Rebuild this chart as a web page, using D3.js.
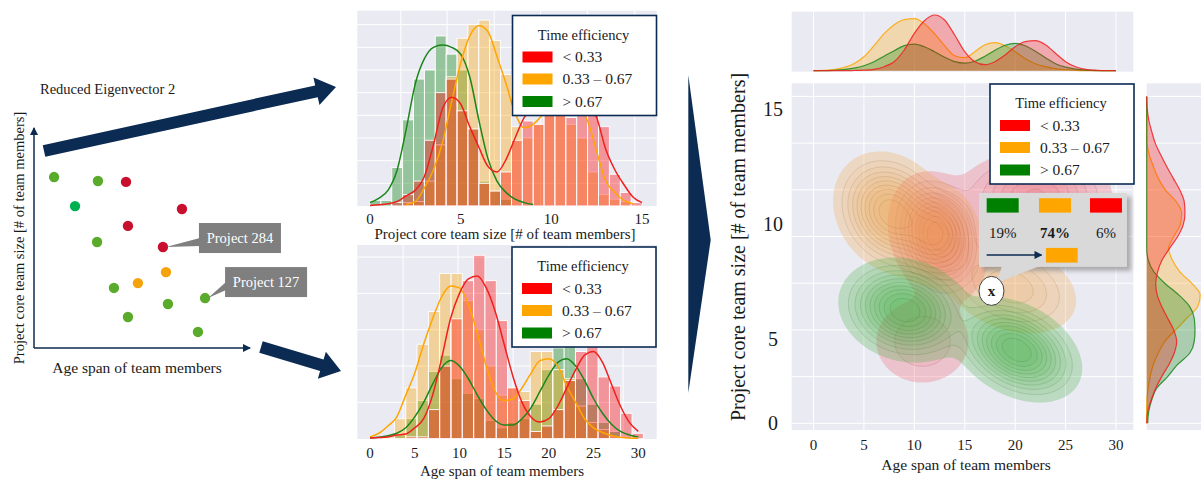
<!DOCTYPE html>
<html>
<head>
<meta charset="utf-8">
<script src="https://cdn.jsdelivr.net/npm/d3@7"></script>
<style>
  body { margin: 0; background: #fff; }
  text { font-family: "Liberation Serif", "Times New Roman", serif; fill: #1a1a1a; }
</style>
</head>
<body>
<svg id="fig" width="1201" height="479"></svg>
<script>
// ---------- data ----------
// left: projects on the reduced eigenvector plane (schematic units)
const eigenX = [0.93, 2.96, 4.26, 1.90, 6.85, 4.35, 2.92, 5.97, 6.11, 4.81, 3.70, 7.92, 6.20, 4.35, 7.59];
const eigenY = [7.77, 7.59, 7.55, 6.45, 6.32, 5.55, 4.82, 4.59, 3.45, 2.95, 2.73, 2.27, 2.00, 1.41, 0.73];
const eigenCls = ['g', 'g', 'r', 't', 'r', 'r', 'g', 'r', 'o', 'o', 'g', 'g', 'g', 'g', 'g'];
const calloutIdx = [7, 11];
const calloutText = ['Project 284', 'Project 127'];

const groups = ['< 0.33', '0.33 \u2013 0.67', '> 0.67'];

// top histogram: project core team size
const sizeBins = [0, 0.6, 1.2, 1.8, 2.4, 3.0, 3.6, 4.2, 4.8, 5.4, 6.0, 6.6, 7.2, 7.8, 8.4, 9.0, 9.6, 10.2, 10.8, 11.4, 12.0, 12.6, 13.2, 13.8, 14.4, 15.0];
const sizeRed    = [0, 0, 0.15, 0.5, 1.1, 2.9, 5.0, 5.6, 4.2, 3.4, 1.0, 0.66, 1.5, 2.9, 3.75, 3.6, 4.0, 4.2, 3.9, 4.1, 4.0, 3.5, 1.4, 0.6, 0.15];
const sizeOrange = [0, 0, 0, 0.15, 0.2, 1.1, 2.7, 5.7, 7.4, 8.0, 8.2, 7.3, 5.8, 3.5, 3.0, 3.6, 4.0, 4.0, 3.6, 3.0, 1.5, 0.5, 0.3, 0.2, 0];
const sizeGreen  = [0.25, 0.25, 1.7, 3.8, 5.6, 6.0, 7.5, 6.7, 6.0, 3.4, 1.1, 0.66, 0.3, 0, 0, 0, 0, 0, 0, 0, 0, 0, 0, 0, 0];
const sizeKdeX = d3.range(31).map(i => i / 2);
const sizeKdeRed    = [0.02, 0.05, 0.1, 0.2, 0.45, 0.7, 1.3, 2.7, 4.3, 4.8, 4.5, 3.5, 2.6, 1.75, 1.5, 2.05, 3.0, 3.9, 4.4, 4.7, 4.9, 5.0, 5.0, 4.85, 4.6, 3.9, 2.5, 1.6, 0.95, 0.4, 0.15];
const sizeKdeOrange = [null, null, null, null, 0.07, 0.2, 0.8, 1.6, 2.8, 4.6, 6.3, 7.5, 7.95, 7.7, 6.6, 5.4, 4.1, 3.45, 3.6, 4.0, 4.4, 4.6, 4.6, 4.3, 3.75, 2.4, 1.1, 0.6, 0.25, 0.1, null];
const sizeKdeGreen  = [0.15, 0.35, 0.7, 1.6, 3.4, 5.4, 6.5, 7.0, 7.1, 7.0, 6.7, 5.7, 3.8, 2.1, 1.1, 0.6, 0.3, 0.15, 0.07, null, null, null, null, null, null, null, null, null, null, null, null];
const sizeTicks = [0, 5, 10, 15];
const sizeGrid = [1.7, 4.25, 6.85, 9.4, 12.0, 14.6];

// bottom histogram: age span of team members
const ageBins = [0.2, 1.47, 2.73, 4.0, 5.26, 6.53, 7.79, 9.06, 10.32, 11.59, 12.85, 14.12, 15.38, 16.65, 17.91, 19.18, 20.44, 21.71, 22.97, 24.24, 25.5, 26.77, 28.03, 29.3, 30.56];
const ageRed    = [0, 0, 0, 0.05, 0.05, 0.8, 2.0, 3.3, 4.35, 5.05, 4.35, 3.25, 1.4, 1.05, 0.2, 0.35, 0.8, 1.6, 2.4, 2.55, 1.7, 1.45, 0.7, 0.15];
const ageOrange = [0, 0.05, 0.55, 1.4, 2.6, 3.5, 4.55, 4.55, 3.8, 3.0, 2.0, 1.2, 1.4, 1.3, 2.4, 2.4, 1.9, 1.65, 0.9, 0.45, 0.25, 0.05, 0, 0];
const ageGreen  = [0, 0, 0.1, 0.55, 1.05, 1.85, 2.3, 1.65, 1.25, 1.1, 0.5, 0.3, 0.45, 0.55, 0.95, 1.9, 2.5, 2.55, 1.65, 0.95, 0.45, 0.2, 0.05, 0];
const ageKdeX = d3.range(31);
const ageKdeRed    = [0.02, 0.03, 0.05, 0.1, 0.13, 0.3, 0.55, 1.2, 2.2, 3.3, 4.0, 4.4, 4.48, 4.15, 3.5, 2.6, 1.7, 1.0, 0.6, 0.46, 0.55, 0.9, 1.4, 1.9, 2.3, 2.4, 2.1, 1.5, 0.9, 0.45, 0.2];
const ageKdeOrange = [0.05, 0.15, 0.35, 0.6, 1.2, 1.8, 2.6, 3.3, 3.9, 4.2, 4.15, 3.7, 2.9, 2.0, 1.3, 1.05, 1.1, 1.4, 1.8, 2.15, 2.2, 2.0, 1.45, 1.0, 0.55, 0.3, 0.17, 0.09, 0.04, 0.02, 0.01];
const ageKdeGreen  = [0.02, 0.04, 0.08, 0.15, 0.3, 0.6, 1.0, 1.5, 1.95, 2.15, 2.0, 1.65, 1.2, 0.8, 0.5, 0.38, 0.38, 0.55, 0.85, 1.3, 1.75, 2.1, 2.2, 2.0, 1.6, 1.1, 0.7, 0.4, 0.2, 0.1, 0.05];
const ageTicks = [0, 5, 10, 15, 20, 25, 30];
const ageGrid = [3.7, 9.85, 16.0, 22.15, 28.3];

// joint plot
const jointXTicks = [0, 5, 10, 15, 20, 25, 30];
const jointYGrid = [0, 2, 4, 6, 8, 10, 12, 14];
const jointYLabels = ['0', '5', '10', '15'];
const jointYLabelAt = [0, 3.6, 8.55, 13.45];
// 2D density components: [age, size, spread age, spread size, correlation, weight]
const redBlobs    = [[12.4, 8.0, 1.9, 1.05, -0.2, 1.0], [22.0, 9.8, 3.2, 0.8, 0, 0.5], [10.8, 3.5, 2.6, 1.0, 0, 0.14]];
const orangeBlobs = [[7.76, 9.0, 2.2, 1.0, -0.2, 1.0], [12.2, 8.07, 1.7, 0.85, 0, 0.7], [19.5, 5.85, 3.1, 0.95, -0.3, 0.28]];
const greenBlobs  = [[9.08, 4.85, 2.5, 0.85, -0.15, 1.0], [20.16, 3.14, 2.45, 0.85, -0.35, 1.0]];
// marginals
const margTopX = d3.range(31);
const margTopRed    = [0, 0, 0, 0, 0.2, 0.5, 1.4, 4, 9, 20.7, 37.4, 50, 55.7, 50.7, 35.7, 19, 9, 6, 9, 15.7, 24, 29, 30, 26, 17.4, 9, 4, 1.4, 0.5, 0, 0];
const margTopOrange = [0, 0.3, 1, 3, 7, 14, 25, 37, 46, 51, 52, 47, 37, 25, 15, 13, 19, 26, 28, 25, 19, 12, 7, 4, 2, 1, 0.4, 0.1, 0, 0, 0];
const margTopGreen  = [0, 0, 0.3, 1, 2.5, 5, 9, 14.5, 20, 25, 26.5, 24, 19, 13.5, 9, 7.5, 9.5, 14.5, 20.5, 25.5, 27.4, 25, 19.5, 13, 7, 3.5, 1.5, 0.5, 0.1, 0, 0];
const margRightY = d3.range(29).map(i => i / 2);
const margRightRed    = [0, 1, 4.5, 9, 15, 22, 27.5, 30, 27, 21, 15, 10.5, 9, 11, 15.5, 23, 31, 36.5, 38.3, 37.5, 33, 26.5, 20, 14, 8.5, 5, 2, 0.5, 0];
const margRightOrange = [0, 0, 0.2, 1.5, 3.5, 6.5, 11.5, 18, 29, 40, 51, 53.5, 45, 33, 25.5, 22, 27, 33.5, 35, 29.5, 18.5, 11.5, 6.7, 2.5, 0.3, 0, 0, 0, 0];
const margRightGreen  = [1, 2, 5, 10, 21, 30.5, 43, 47.5, 48.3, 47.5, 43, 32, 18, 7, 1.5, 0, 0, 0, 0, 0, 0, 0, 0, 0, 0, 0, 0, 0, 0];
// new project query and classifier shares (green, orange, red)
const queryPoint = [17.65, 5.67];
const shareText = ['19%', '74%', '6%'];
const shareGroup = [2, 1, 0];
const predictedGroup = 1;

// ---------- styles ----------
const NAVY = '#0c2b52';
const BG = '#eaeaf2';
const patchColors = ['#ff0000', '#ffa500', '#008000'];
const lineColors = ['#f0201e', '#ffa500', '#1b861b'];
const dotColors = { g: '#5aab2b', t: '#00b050', r: '#c8102e', o: '#f5a30a' };
const blobColors = ['#ef5a6a', '#f2a54a', '#44b044'];

const svg = d3.select('#fig');
const defs = svg.append('defs');
defs.append('marker').attr('id', 'ah').attr('viewBox', '0 0 8 8').attr('refX', 7).attr('refY', 4)
  .attr('markerWidth', 8).attr('markerHeight', 8).attr('markerUnits', 'userSpaceOnUse').attr('orient', 'auto')
  .append('path').attr('d', 'M0,0L8,4L0,8z').attr('fill', NAVY);
const sh = defs.append('filter').attr('id', 'shadow').attr('x', '-10%').attr('y', '-10%').attr('width', '130%').attr('height', '140%');
sh.append('feGaussianBlur').attr('stdDeviation', 2);

function arrowPoly(x0, y0, x1, y1, sw, hl, hw) {
  const L = Math.hypot(x1 - x0, y1 - y0), ux = (x1 - x0) / L, uy = (y1 - y0) / L, nx = -uy, ny = ux;
  const bx = x1 - ux * hl, by = y1 - uy * hl;
  return [[x0 + nx * sw, y0 + ny * sw], [bx + nx * sw, by + ny * sw], [bx + nx * hw, by + ny * hw], [x1, y1],
    [bx - nx * hw, by - ny * hw], [bx - nx * sw, by - ny * sw], [x0 - nx * sw, y0 - ny * sw]];
}

// ---------- left schematic ----------
const lx = d3.scaleLinear([0, 10], [34, 250]);
const ly = d3.scaleLinear([0, 10], [348, 128]);
const left = svg.append('g');
left.append('line').attr('x1', lx(0)).attr('y1', ly(0)).attr('x2', lx(0)).attr('y2', ly(10))
  .attr('stroke', NAVY).attr('stroke-width', 1.5).attr('marker-end', 'url(#ah)');
left.append('line').attr('x1', lx(0)).attr('y1', ly(0)).attr('x2', lx(10)).attr('y2', ly(0))
  .attr('stroke', NAVY).attr('stroke-width', 1.5).attr('marker-end', 'url(#ah)');
left.append('text').attr('x', 40).attr('y', 89).attr('dy', '.35em').style('font-size', '14.5px').text('Reduced Eigenvector 2');
left.append('text').attr('x', 137).attr('y', 368).attr('dy', '.35em').attr('text-anchor', 'middle').style('font-size', '15.5px').text('Age span of team members');
left.append('text').attr('transform', 'translate(19,238) rotate(-90)').attr('dy', '.35em').attr('text-anchor', 'middle')
  .style('font-size', '14.5px').text('Project core team size [# of team members]');

left.selectAll('circle').data(eigenX).join('circle')
  .attr('cx', d => lx(d)).attr('cy', (d, i) => ly(eigenY[i])).attr('r', 5.2)
  .attr('fill', (d, i) => dotColors[eigenCls[i]]);

const calloutOffset = [[36, -24], [20, -31]];
calloutIdx.forEach((k, i) => {
  const px = lx(eigenX[k]), py = ly(eigenY[k]);
  const bx = px + calloutOffset[i][0], by = py + calloutOffset[i][1];
  left.append('path').attr('d', d3.line()([[px + 3, py], [bx + 1, by + 15], [bx + 1, by + 23]]) + 'Z').attr('fill', '#7f7f7f');
  left.append('rect').attr('x', bx).attr('y', by).attr('width', 82).attr('height', 30).attr('fill', '#7f7f7f');
  left.append('text').attr('x', bx + 41).attr('y', by + 15).attr('dy', '.35em').attr('text-anchor', 'middle')
    .style('font-size', '14.5px').style('fill', '#fff').text(calloutText[i]);
});

// big arrows + chevron
svg.append('path').attr('d', d3.line()(arrowPoly(44, 151, 336, 87, 6, 20, 14)) + 'Z').attr('fill', NAVY);
svg.append('path').attr('d', d3.line()(arrowPoly(261, 347, 341, 371, 6, 20, 14)) + 'Z').attr('fill', NAVY);
svg.append('path').attr('d', d3.line()([[688.3, 75], [710.7, 240], [688.3, 393]]) + 'Z').attr('fill', NAVY);

// ---------- legend ----------
function legend(g, x0, y0) {
  const lg = g.append('g').attr('transform', `translate(${x0},${y0})`);
  lg.append('rect').attr('width', 144).attr('height', 100).attr('fill', '#fff').attr('stroke', NAVY).attr('stroke-width', 1.6);
  lg.append('text').attr('x', 71).attr('y', 19).attr('dy', '.35em').attr('text-anchor', 'middle').style('font-size', '14.5px').text('Time efficiency');
  const rowY = [41.5, 63.5, 86];
  groups.forEach((name, i) => {
    lg.append('rect').attr('x', 10).attr('y', rowY[i] - 5.5).attr('width', 30).attr('height', 11).attr('fill', patchColors[i]);
    lg.append('text').attr('x', 50).attr('y', rowY[i]).attr('dy', '.35em').style('font-size', '15.5px').text(name);
  });
}

// ---------- histograms ----------
function histPanel(o) {
  const g = svg.append('g');
  const x = d3.scaleLinear(o.xDom, o.xRange);
  const y = d3.scaleLinear([0, 1], [o.base, o.base - o.unit]);
  const [fx0, fy0, fx1, fy1] = o.frame;
  g.append('rect').attr('x', fx0).attr('y', fy0).attr('width', fx1 - fx0).attr('height', fy1 - fy0).attr('fill', BG);
  g.selectAll('.gx').data(o.grid).join('line').attr('x1', x).attr('x2', x).attr('y1', fy0).attr('y2', fy1)
    .attr('stroke', '#fff').attr('stroke-width', 1);
  g.selectAll('.gy').data(d3.range(1, Math.floor(y.invert(fy0)) + 1)).join('line')
    .attr('x1', fx0).attr('x2', fx1).attr('y1', y).attr('y2', y).attr('stroke', '#fff').attr('stroke-width', 1);
  const order = [2, 1, 0];
  order.forEach(gi => {
    const bars = o.counts[gi].map((c, i) => ({ c, i })).filter(d => d.c > 0);
    g.append('g').selectAll('rect').data(bars).join('rect')
      .attr('x', d => x(o.bins[d.i])).attr('width', d => x(o.bins[d.i + 1]) - x(o.bins[d.i]))
      .attr('y', d => y(d.c)).attr('height', d => y(0) - y(d.c))
      .attr('fill', patchColors[gi]).attr('fill-opacity', 0.36).attr('stroke', '#fff').attr('stroke-width', 0.9);
  });
  const line = d3.line().defined(d => d[1] != null).x(d => x(d[0])).y(d => y(d[1])).curve(d3.curveMonotoneX);
  order.forEach(gi => {
    g.append('path').attr('d', line(o.kdeX.map((v, i) => [v, o.kde[gi][i]])))
      .attr('fill', 'none').attr('stroke', lineColors[gi]).attr('stroke-width', 1.5);
  });
  g.selectAll('.tk').data(o.ticks).join('text').attr('x', x).attr('y', o.tickY).attr('dy', '.35em')
    .attr('text-anchor', 'middle').style('font-size', '15px').text(d => d);
  g.append('text').attr('x', o.labelPos[0]).attr('y', o.labelPos[1]).attr('dy', '.35em').attr('text-anchor', 'middle')
    .style('font-size', '15px').text(o.label);
  legend(g, o.legendPos[0], o.legendPos[1]);
}

histPanel({
  xDom: [0, 15], xRange: [370, 642], base: 206, unit: 22.67, frame: [357.3, 10.7, 656.7, 206],
  grid: sizeGrid, bins: sizeBins, counts: [sizeRed, sizeOrange, sizeGreen],
  kdeX: sizeKdeX, kde: [sizeKdeRed, sizeKdeOrange, sizeKdeGreen],
  ticks: sizeTicks, tickY: 218.5, label: 'Project core team size [# of team members]', labelPos: [505, 234],
  legendPos: [512.5, 15.5]
});
histPanel({
  xDom: [0, 30], xRange: [370, 638.3], base: 438.7, unit: 36.33, frame: [357.3, 245, 656.7, 439],
  grid: ageGrid, bins: ageBins, counts: [ageRed, ageOrange, ageGreen],
  kdeX: ageKdeX, kde: [ageKdeRed, ageKdeOrange, ageKdeGreen],
  ticks: ageTicks, tickY: 453, label: 'Age span of team members', labelPos: [502, 470.5],
  legendPos: [512, 247]
});

// ---------- joint plot ----------
const jX = d3.scaleLinear([0, 30], [813.5, 1116]);
const jY = d3.scaleLinear([0, 14], [423.3, 96.4]);
const fMain = [791.7, 83.3, 1133.3, 430];
const fTop = [791.7, 11.7, 1133.3, 71.7];
const fRight = [1146.7, 83.3, 1201, 430];
const mTopY = d3.scaleLinear([0, 60], [70.7, 10.7]);
const mRightX = d3.scaleLinear([0, 60], [1146.7, 1206.7]);

const joint = svg.append('g');
[fMain, fTop, fRight].forEach(f => joint.append('rect').attr('x', f[0]).attr('y', f[1])
  .attr('width', f[2] - f[0]).attr('height', f[3] - f[1]).attr('fill', BG));
joint.selectAll('.vx').data(jointXTicks).join('line').attr('x1', jX).attr('x2', jX)
  .attr('y1', fMain[1]).attr('y2', fMain[3]).attr('stroke', '#fff');
joint.selectAll('.vt').data(jointXTicks).join('line').attr('x1', jX).attr('x2', jX)
  .attr('y1', fTop[1]).attr('y2', fTop[3]).attr('stroke', '#fff');
joint.selectAll('.hy').data(jointYGrid).join('line').attr('y1', jY).attr('y2', jY)
  .attr('x1', fMain[0]).attr('x2', fMain[2]).attr('stroke', '#fff');
joint.selectAll('.hr').data(jointYGrid).join('line').attr('y1', jY).attr('y2', jY)
  .attr('x1', fRight[0]).attr('x2', fRight[2]).attr('stroke', '#fff');

defs.append('clipPath').attr('id', 'jclip').append('rect')
  .attr('x', fMain[0]).attr('y', fMain[1]).attr('width', fMain[2] - fMain[0]).attr('height', fMain[3] - fMain[1]);

const cell = 2;
const gw = Math.ceil((fMain[2] - fMain[0]) / cell), gh = Math.ceil((fMain[3] - fMain[1]) / cell);
function density(blobs) {
  const vals = new Array(gw * gh);
  for (let j = 0; j < gh; j++) {
    for (let i = 0; i < gw; i++) {
      const ax = jX.invert(fMain[0] + (i + 0.5) * cell), ay = jY.invert(fMain[1] + (j + 0.5) * cell);
      let s = 0;
      for (const [cx, cy, sx, sy, r, w] of blobs) {
        const u = (ax - cx) / sx, v = (ay - cy) / sy;
        s += w * Math.exp(-(u * u - 2 * r * u * v + v * v) / (2 * (1 - r * r)));
      }
      vals[j * gw + i] = s;
    }
  }
  const m = d3.max(vals);
  return vals.map(v => v / m);
}
const levels = [0.03, 0.08, 0.14, 0.21, 0.29, 0.38, 0.48, 0.59, 0.71, 0.84];
const gridPath = d3.geoPath(d3.geoTransform({
  point(px, py) { this.stream.point(fMain[0] + px * cell, fMain[1] + py * cell); }
}));
const cg = joint.append('g').attr('clip-path', 'url(#jclip)');
[redBlobs, orangeBlobs, greenBlobs].forEach((blobs, gi) => {
  const cs = d3.contours().size([gw, gh]).thresholds(levels)(density(blobs));
  cg.append('g').selectAll('path').data(cs).join('path').attr('d', gridPath)
    .attr('fill', blobColors[gi]).attr('fill-opacity', (d, i) => i === 0 ? 0.28 : 0.08)
    .attr('stroke', d3.color(blobColors[gi]).darker(1.4)).attr('stroke-opacity', (d, i) => i === 0 ? 0 : 0.28)
    .attr('stroke-width', 0.6);
});

// marginals
const topArea = d3.area().x(d => jX(d[0])).y0(mTopY(0)).y1(d => mTopY(d[1])).curve(d3.curveMonotoneX);
const topLine = topArea.lineY1();
const rightArea = d3.area().y(d => jY(d[0])).x0(mRightX(0)).x1(d => mRightX(d[1])).curve(d3.curveMonotoneY);
const rightLine = rightArea.lineX1();
const topSeries = [margTopRed, margTopOrange, margTopGreen];
const rightSeries = [margRightRed, margRightOrange, margRightGreen];
[1, 2, 0].forEach(gi => {
  const td = margTopX.map((v, i) => [v, topSeries[gi][i]]);
  joint.append('path').attr('d', topArea(td)).attr('fill', patchColors[gi]).attr('fill-opacity', 0.28);
  joint.append('path').attr('d', topLine(td)).attr('fill', 'none').attr('stroke', lineColors[gi]).attr('stroke-width', 1.2).attr('stroke-opacity', 0.85);
  const rd = margRightY.map((v, i) => [v, rightSeries[gi][i]]);
  joint.append('path').attr('d', rightArea(rd)).attr('fill', patchColors[gi]).attr('fill-opacity', 0.28);
  joint.append('path').attr('d', rightLine(rd)).attr('fill', 'none').attr('stroke', lineColors[gi]).attr('stroke-width', 1.2).attr('stroke-opacity', 0.85);
});

// axis labels
joint.selectAll('.xl').data(jointXTicks).join('text').attr('x', jX).attr('y', 445).attr('dy', '.35em')
  .attr('text-anchor', 'middle').style('font-size', '15px').text(d => d);
joint.selectAll('.yl').data(jointYLabels).join('text').attr('x', 773).attr('y', (d, i) => jY(jointYLabelAt[i]))
  .attr('dy', '.35em').attr('text-anchor', 'middle').style('font-size', '20px').text(d => d);
joint.append('text').attr('x', 966).attr('y', 465).attr('dy', '.35em').attr('text-anchor', 'middle')
  .style('font-size', '15.5px').text('Age span of team members');
joint.append('text').attr('transform', 'translate(738,247) rotate(-90)').attr('dy', '.35em').attr('text-anchor', 'middle')
  .style('font-size', '20px').text('Project core team size [# of team members]');

legend(joint, 990, 84);

// callout for the new project
const qx = jX(queryPoint[0]), qy = jY(queryPoint[1]);
const bx = qx - 12.5, by = qy - 98, bw = 148, bh = 74;
const co = joint.append('g');
co.append('rect').attr('x', bx + 4).attr('y', by + 4).attr('width', bw).attr('height', bh)
  .attr('fill', '#777').attr('opacity', 0.55).attr('filter', 'url(#shadow)');
co.append('path').attr('d', d3.line()([[bx + 23, by + bh - 1], [bx + 61, by + bh - 1], [qx + 5, qy - 8]]) + 'Z').attr('fill', '#d9d9d9');
co.append('rect').attr('x', bx).attr('y', by).attr('width', bw).attr('height', bh).attr('fill', '#d9d9d9');
const slotX = [7.7, 60, 111];
shareText.forEach((t, i) => {
  co.append('rect').attr('x', bx + slotX[i]).attr('y', by + 5.3).attr('width', 32).attr('height', 14.4).attr('fill', patchColors[shareGroup[i]]);
  co.append('text').attr('x', bx + slotX[i] + 16).attr('y', by + 40.3).attr('dy', '.35em').attr('text-anchor', 'middle')
    .style('font-size', '15px').style('font-weight', shareGroup[i] === predictedGroup ? 'bold' : 'normal').text(t);
});
co.append('line').attr('x1', bx + 7.7).attr('x2', bx + 62.5).attr('y1', by + 62).attr('y2', by + 62)
  .attr('stroke', NAVY).attr('stroke-width', 1.5).attr('marker-end', 'url(#ah)');
co.append('rect').attr('x', bx + 67).attr('y', by + 55).attr('width', 31.7).attr('height', 14.7).attr('fill', patchColors[predictedGroup]);
joint.append('ellipse').attr('cx', qx).attr('cy', qy).attr('rx', 12.5).attr('ry', 14.5)
  .attr('fill', '#fff').attr('stroke', '#444').attr('stroke-width', 1);
joint.append('text').attr('x', qx).attr('y', qy).attr('dy', '.33em').attr('text-anchor', 'middle')
  .style('font-size', '15px').style('font-weight', 'bold').text('x');
</script>
</body>
</html>
